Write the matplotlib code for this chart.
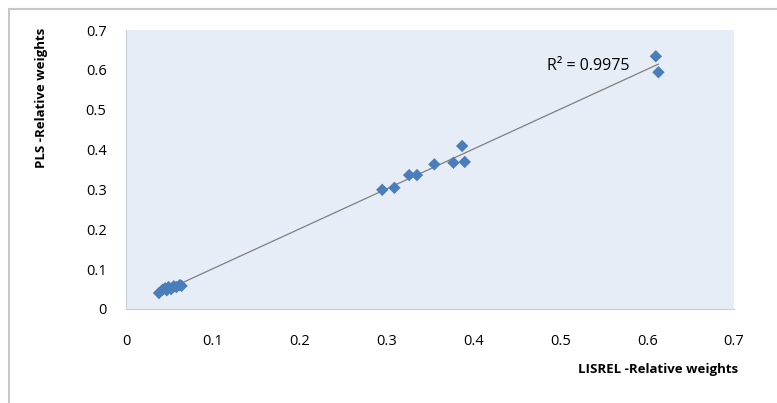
import numpy as np
import matplotlib
matplotlib.use("Agg")
import matplotlib.pyplot as plt

plt.rcParams['font.family'] = ['Open Sans', 'DejaVu Sans']

# LISREL vs PLS relative weights
lisrel = [0.038, 0.042, 0.045, 0.047, 0.049, 0.052, 0.055, 0.058, 0.062, 0.064,
          0.295, 0.309, 0.326, 0.335, 0.355, 0.377, 0.390, 0.387, 0.610, 0.613]
pls = [0.040, 0.048, 0.052, 0.047, 0.055, 0.050, 0.057, 0.055, 0.060, 0.058,
       0.299, 0.304, 0.336, 0.336, 0.363, 0.367, 0.369, 0.409, 0.634, 0.594]
r2_label = "R² = 0.9975"
xticks = [0, 0.1, 0.2, 0.3, 0.4, 0.5, 0.6, 0.7]
yticks = [0, 0.1, 0.2, 0.3, 0.4, 0.5, 0.6, 0.7]

fig = plt.figure(figsize=(7.77, 4.03), dpi=100)
ax = fig.add_axes([126/777, 1 - 309/403, (734 - 126)/777, (309 - 30)/403])
ax.set_facecolor('#E7EDF6')

# trend line
k, b = np.polyfit(lisrel, pls, 1)
xs = np.array([min(lisrel), max(lisrel)])
ax.plot(xs, k*xs + b, color='#7F7F7F', lw=0.9, zorder=2)

ax.scatter(lisrel, pls, marker='D', s=40, color='#4A7EBB', edgecolors='none', zorder=3)

ax.text(0.485, 0.61, r2_label, fontsize=11.5, va='center', ha='left', color='#000000')

ax.set_xlim(0, 0.7)
ax.set_ylim(0, 0.7)
ax.set_xticks(xticks)
ax.set_yticks(yticks)
ax.set_xticklabels([f"{t:g}" for t in xticks])
ax.set_yticklabels([f"{t:g}" for t in yticks])
ax.tick_params(length=0, labelsize=10.5, colors='#000000')
ax.tick_params(axis='x', pad=18)
ax.tick_params(axis='y', pad=14)

for s in ['top', 'right']:
    ax.spines[s].set_visible(False)
for s in ['bottom', 'left']:
    ax.spines[s].set_color('#C8CED6')
    ax.spines[s].set_linewidth(0.8)

fig.text(658/777, 1 - 369/403, "LISREL -Relative weights", fontsize=9.5,
         fontweight='bold', ha='center', va='center')
fig.text(42/777, 1 - 98/403, "PLS -Relative weights", fontsize=9.5,
         fontweight='bold', ha='center', va='center', rotation=90)

# outer chart border (top and left visible)
fig.add_artist(plt.Line2D([9/777, 9/777], [0, 1 - 9/403], color='#C8C8C8', lw=1.5))
fig.add_artist(plt.Line2D([9/777, 1], [1 - 9/403, 1 - 9/403], color='#C8C8C8', lw=1.5))

fig.savefig("out.png", dpi=100)
